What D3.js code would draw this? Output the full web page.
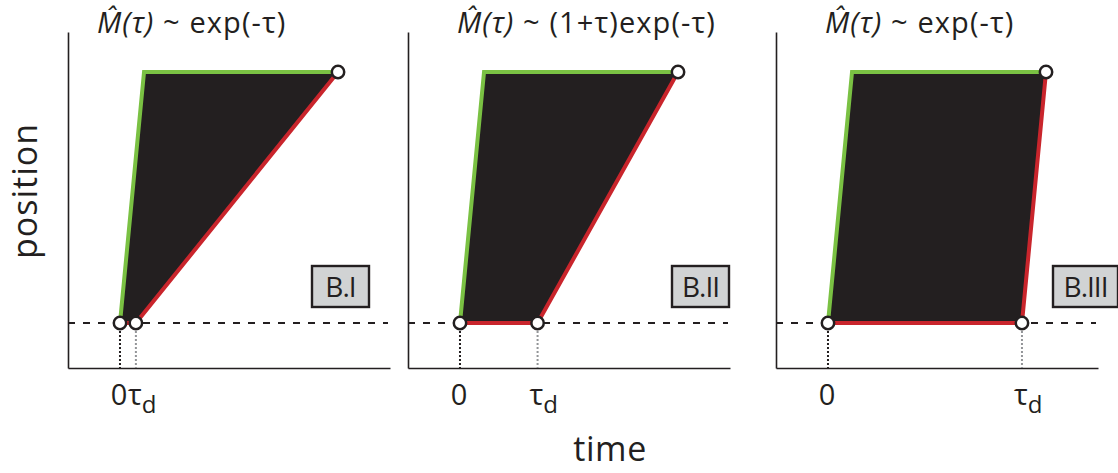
<!DOCTYPE html>
<html>
<head>
<meta charset="utf-8">
<script src="https://cdn.jsdelivr.net/npm/d3@7"></script>
<style>
  html, body { margin: 0; padding: 0; background: #fff; }
  svg { display: block; }
  text { font-family: "Open Sans", "Noto Sans", sans-serif; fill: #231f20; }
</style>
</head>
<body>
<svg id="chart" width="1118" height="473"></svg>
<script>
// ---- data ----
const panelLabels = ["B.I", "B.II", "B.III"];
const titleRest = [" ~ exp(-τ)", " ~ (1+τ)exp(-τ)", " ~ exp(-τ)"];
const tauD = [0.082, 0.40, 1.0];          // delay time per panel
const frontStart = [0.124, 0.124, 0.124]; // time the front reaches the top (green)
const frontEnd = [1.124, 1.124, 1.124];   // time the back reaches the top (red)
const posBottom = 0;                      // position of the source
const posTop = 1;                         // position of the top
const timeDomain = [-0.268, 1.392];
const posDomain = [-0.179, 1.159];

// ---- layout ----
const svg = d3.select("#chart");
const panelLeft = [68, 408, 776];
const panelW = 322;
const plotTop = 32, plotBottom = 368;
const boxRightOffset = [-21, -1, 20];
const boxWidth = [57, 57, 65];
const titleOffset = [29, 49, 49];

const green = "#7ac143", red = "#c9252c", ink = "#231f20";

const y = d3.scaleLinear().domain(posDomain).range([plotBottom, plotTop]);

panelLabels.forEach((lab, i) => {
  const x = d3.scaleLinear().domain(timeDomain).range([panelLeft[i], panelLeft[i] + panelW]);
  const g = svg.append("g");

  // axes (domain lines only)
  const xAxis = d3.axisBottom(x).tickValues([]).tickSizeOuter(0);
  const yAxis = d3.axisLeft(y).tickValues([]).tickSizeOuter(0);
  g.append("g").attr("transform", `translate(0,${plotBottom})`).call(xAxis)
    .select(".domain").attr("stroke", ink).attr("stroke-width", 1.6);
  g.append("g").attr("transform", `translate(${panelLeft[i]},0)`).call(yAxis)
    .select(".domain").attr("stroke", ink).attr("stroke-width", 1.6);

  // dashed baseline
  g.append("line")
    .attr("x1", x(timeDomain[0])).attr("x2", x(timeDomain[1]) - 2)
    .attr("y1", y(posBottom)).attr("y2", y(posBottom))
    .attr("stroke", ink).attr("stroke-width", 2).attr("stroke-dasharray", "7,8");

  // dotted drop lines
  g.append("line")
    .attr("x1", x(0)).attr("x2", x(0))
    .attr("y1", y(posBottom)).attr("y2", plotBottom)
    .attr("stroke", ink).attr("stroke-width", 2).attr("stroke-dasharray", "2,2");
  g.append("line")
    .attr("x1", x(tauD[i])).attr("x2", x(tauD[i]))
    .attr("y1", y(posBottom)).attr("y2", plotBottom)
    .attr("stroke", "#939598").attr("stroke-width", 2).attr("stroke-dasharray", "2,2");

  // filled region
  const poly = [[0, posBottom], [frontStart[i], posTop], [frontEnd[i], posTop], [tauD[i], posBottom]];
  g.append("path")
    .attr("d", d3.line().x(d => x(d[0])).y(d => y(d[1]))(poly) + "Z")
    .attr("fill", ink);

  // red edge (back)
  const redPts = [[0, posBottom], [tauD[i], posBottom], [frontEnd[i], posTop]];
  g.append("path")
    .attr("d", d3.line().x(d => x(d[0])).y(d => y(d[1]))(redPts))
    .attr("fill", "none").attr("stroke", red).attr("stroke-width", 4);

  // green edge (front)
  const greenPts = [[0, posBottom], [frontStart[i], posTop], [frontEnd[i], posTop]];
  g.append("path")
    .attr("d", d3.line().x(d => x(d[0])).y(d => y(d[1]))(greenPts))
    .attr("fill", "none").attr("stroke", green).attr("stroke-width", 4);

  // circles
  [[0, posBottom], [tauD[i], posBottom], [frontEnd[i], posTop]].forEach(p => {
    g.append("circle").attr("cx", x(p[0])).attr("cy", y(p[1])).attr("r", 6.2)
      .attr("fill", "#fff").attr("stroke", ink).attr("stroke-width", 2.5);
  });

  // tick labels
  g.append("text").attr("x", x(0) - 1).attr("y", 405).attr("text-anchor", "middle")
    .attr("font-size", 29).text("0");
  const t = g.append("text").attr("x", x(tauD[i]) - 8).attr("y", 405).attr("font-size", 29);
  t.append("tspan").text("τ");
  t.append("tspan").attr("font-size", 24).attr("dy", 8).text("d");

  // panel label box
  const bx = x(timeDomain[1]) + boxRightOffset[i] - boxWidth[i], by = 266;
  g.append("rect").attr("x", bx).attr("y", by).attr("width", boxWidth[i]).attr("height", 41)
    .attr("fill", "#d1d3d4").attr("stroke", ink).attr("stroke-width", 2.4);
  g.append("text").attr("x", bx + boxWidth[i] / 2).attr("y", by + 31).attr("text-anchor", "middle")
    .attr("font-size", 28).attr("letter-spacing", -1).text(lab);

  // title
  const tx = panelLeft[i] + titleOffset[i];
  const title = g.append("text").attr("x", tx).attr("y", 33).attr("font-size", 29)
    .attr("letter-spacing", 1.1);
  title.append("tspan").attr("font-style", "italic").text("M\u0302(τ)");
  title.append("tspan").text(titleRest[i]);
});

// axis titles
svg.append("text").attr("x", 610).attr("y", 461).attr("text-anchor", "middle")
  .attr("font-size", 34).attr("letter-spacing", 0.6).text("time");
svg.append("text").attr("transform", "translate(37,191) rotate(-90)")
  .attr("text-anchor", "middle").attr("font-size", 34).attr("letter-spacing", 1).text("position");
</script>
</body>
</html>
